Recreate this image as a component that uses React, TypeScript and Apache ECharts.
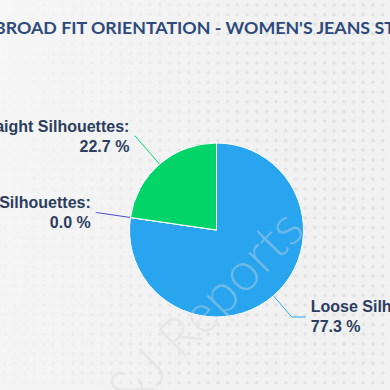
import React, { useEffect, useRef } from "react";
import * as echarts from "echarts";

const titleText = "BROAD FIT ORIENTATION - WOMEN'S JEANS STYLES";
const categories = ["Loose Silhouettes", "Skinny Silhouettes", "Straight Silhouettes"];
const shares = [77.3, 0.0, 22.7];
const sliceColors = ["#29A5EF", "#4B4CC6", "#02D46A"];
const watermark = "D&J Reports";

export default function App() {
  const ref = useRef<HTMLDivElement>(null);
  useEffect(() => {
    if (!ref.current) return;
    const chart = echarts.init(ref.current, null, { renderer: "svg" });
    const lineLens = [
      { length: 28, length2: 14 },
      { length: 34, length2: 1 },
      { length: 37, length2: 1 },
    ];
    const data = categories.map((name, i) => ({
      name,
      value: shares[i],
      itemStyle: { color: sliceColors[i] },
      labelLine: { ...lineLens[i], lineStyle: { color: sliceColors[i] } },
    }));
    chart.setOption({
      animation: false,
      graphic: [
        {
          type: "text",
          x: -6,
          y: 27,
          z: 10,
          silent: true,
          style: {
            text: titleText,
            fontFamily: "Lato",
            fontWeight: "bold",
            fontSize: 17.8,
            fill: "#2E4A7C",
            align: "left",
            verticalAlign: "middle",
          },
        },
        {
          type: "text",
          x: 311,
          y: 236,
          rotation: 0.8,
          z: 100,
          silent: true,
          style: {
            text: watermark,
            fontFamily: "Lato",
            fontWeight: 300,
            fontSize: 54,
            fill: "rgba(215,215,215,0.4)",
            align: "right",
            verticalAlign: "bottom",
          },
        },
      ],
      series: [
        {
          type: "pie",
          center: [216.5, 230],
          radius: 87,
          startAngle: 90,
          clockwise: true,
          avoidLabelOverlap: true,
          minShowLabelAngle: 0,
          stillShowZeroSum: true,
          itemStyle: { borderColor: "#ffffff", borderWidth: 1 },
          label: {
            show: true,
            overflow: "none",
            formatter: (p: any) => `${p.name}:\n${Number(p.value).toFixed(1)} %`,
            fontFamily: "Liberation Sans",
            fontWeight: "bold",
            fontSize: 16,
            lineHeight: 20,
            color: "#2C3D5E",
          },
          labelLine: { show: true, lineStyle: { width: 1 } },
          data,
        },
      ],
    });
    return () => chart.dispose();
  }, []);
  return (
    <div
      style={{
        position: "fixed",
        left: 0,
        top: 0,
        width: 390,
        height: 390,
        backgroundColor: "#f1f1f1",
        backgroundImage:
          "linear-gradient(100deg, rgba(246,246,246,0.95) 0%, rgba(244,244,244,0.6) 35%, rgba(241,241,241,0) 60%), radial-gradient(circle, #e0e0e0 1.4px, rgba(0,0,0,0) 1.8px)",
        backgroundSize: "390px 390px, 9.7px 9.7px",
      }}
    >
      <div ref={ref} style={{ width: 390, height: 390 }} />
    </div>
  );
}
